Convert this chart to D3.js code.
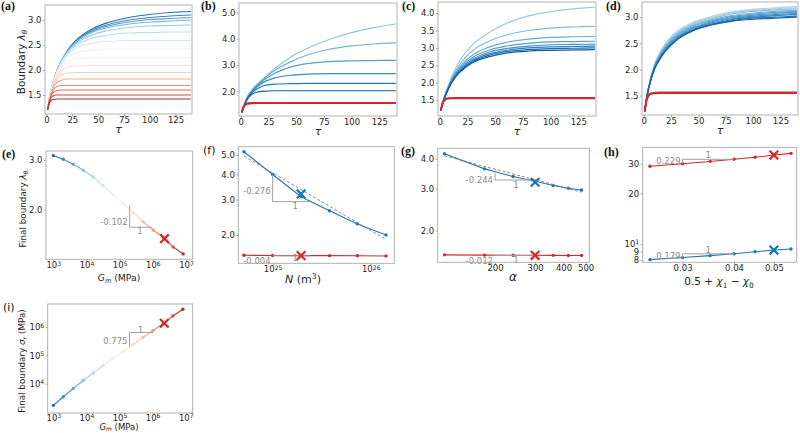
<!DOCTYPE html>
<html><head><meta charset="utf-8">
<script src="https://cdn.jsdelivr.net/npm/d3@7"></script>
<style>
body{margin:0;background:#fff;}
svg{display:block;}
text{font-family:"DejaVu Sans",sans-serif;}
</style></head><body>
<svg id="chart" width="800" height="433"></svg>
<script>
// ================= DATA =================
const tau = [1,3,6,10,15,20,30,45,60,80,100,120,140];
const tauTicks = [0,25,50,75,100,125];

// (a) boundary stretch vs tau, one curve per G_m (blue = soft ... red = stiff)
const curvesA = [
 [1.2,1.45,1.72,1.98,2.20,2.38,2.62,2.83,2.95,3.05,3.11,3.15,3.17],
 [1.2,1.45,1.72,1.98,2.20,2.37,2.60,2.80,2.91,3.00,3.05,3.08,3.10],
 [1.2,1.45,1.72,1.98,2.20,2.37,2.59,2.78,2.88,2.96,3.01,3.03,3.05],
 [1.2,1.45,1.72,1.98,2.19,2.36,2.58,2.76,2.85,2.92,2.96,2.98,3.00],
 [1.2,1.45,1.72,1.97,2.19,2.35,2.55,2.71,2.79,2.85,2.88,2.89,2.90],
 [1.2,1.45,1.72,1.97,2.18,2.33,2.51,2.64,2.70,2.74,2.75,2.76,2.76],
 [1.2,1.45,1.71,1.96,2.16,2.30,2.45,2.54,2.57,2.59,2.59,2.59,2.59],
 [1.2,1.45,1.70,1.94,2.12,2.24,2.35,2.40,2.42,2.42,2.42,2.42,2.42],
 [1.2,1.44,1.69,1.91,2.07,2.16,2.23,2.25,2.25,2.25,2.25,2.25,2.25],
 [1.2,1.44,1.67,1.87,1.99,2.05,2.08,2.09,2.09,2.09,2.09,2.09,2.09],
 [1.2,1.43,1.65,1.82,1.91,1.94,1.95,1.95,1.95,1.95,1.95,1.95,1.95],
 [1.2,1.42,1.62,1.75,1.80,1.82,1.82,1.82,1.82,1.82,1.82,1.82,1.82],
 [1.2,1.41,1.58,1.67,1.69,1.69,1.69,1.69,1.69,1.69,1.69,1.69,1.69],
 [1.2,1.40,1.54,1.59,1.60,1.60,1.60,1.60,1.60,1.60,1.60,1.60,1.60],
 [1.2,1.38,1.48,1.50,1.50,1.50,1.50,1.50,1.50,1.50,1.50,1.50,1.50],
 [1.2,1.35,1.41,1.42,1.42,1.42,1.42,1.42,1.42,1.42,1.42,1.42,1.42]
];
// (b) varying N
const curvesB = [
 [1.2,1.45,1.78,2.05,2.27,2.47,2.84,3.30,3.63,3.97,4.23,4.42,4.56],
 [1.2,1.45,1.77,2.03,2.25,2.44,2.77,3.12,3.38,3.60,3.73,3.80,3.84],
 [1.2,1.45,1.76,2.00,2.22,2.40,2.67,2.92,3.05,3.13,3.16,3.17,3.18],
 [1.2,1.44,1.74,1.97,2.18,2.33,2.50,2.61,2.65,2.67,2.67,2.67,2.67],
 [1.2,1.44,1.72,1.93,2.10,2.20,2.27,2.29,2.30,2.30,2.30,2.30,2.30],
 [1.2,1.43,1.70,1.88,1.97,2.00,2.02,2.02,2.02,2.02,2.02,2.02,2.02]
];
// (c) varying alpha
const curvesC = [
 [1.2,1.45,1.75,2.10,2.45,2.72,3.10,3.45,3.70,3.92,4.04,4.12,4.17],
 [1.2,1.45,1.74,2.06,2.37,2.60,2.93,3.20,3.37,3.50,3.57,3.60,3.62],
 [1.2,1.45,1.73,2.03,2.32,2.52,2.80,3.03,3.16,3.25,3.30,3.32,3.33],
 [1.2,1.45,1.72,2.01,2.28,2.47,2.73,2.94,3.05,3.13,3.17,3.18,3.19],
 [1.2,1.44,1.71,1.99,2.25,2.43,2.68,2.88,2.98,3.05,3.09,3.10,3.11],
 [1.2,1.44,1.70,1.98,2.23,2.40,2.64,2.83,2.93,3.00,3.03,3.04,3.05],
 [1.2,1.44,1.69,1.96,2.21,2.37,2.61,2.79,2.89,2.95,2.98,2.99,3.00],
 [1.2,1.43,1.68,1.95,2.19,2.35,2.58,2.75,2.85,2.91,2.93,2.94,2.95]
];
// (d) varying 0.5 + chi1 - chi0
const curvesD = [
 [1.2,1.50,1.80,2.10,2.33,2.50,2.72,2.90,3.00,3.10,3.15,3.18,3.20],
 [1.2,1.50,1.79,2.09,2.32,2.48,2.70,2.88,2.98,3.08,3.13,3.16,3.18],
 [1.2,1.50,1.79,2.08,2.30,2.46,2.68,2.86,2.96,3.06,3.11,3.14,3.16],
 [1.2,1.49,1.78,2.07,2.28,2.44,2.66,2.84,2.94,3.03,3.08,3.11,3.13],
 [1.2,1.49,1.78,2.06,2.27,2.42,2.64,2.82,2.92,3.01,3.06,3.09,3.11],
 [1.2,1.49,1.77,2.05,2.25,2.41,2.62,2.80,2.90,2.99,3.04,3.07,3.09],
 [1.2,1.49,1.77,2.04,2.24,2.39,2.60,2.78,2.88,2.97,3.02,3.05,3.07],
 [1.2,1.48,1.76,2.03,2.22,2.37,2.58,2.76,2.86,2.95,3.00,3.03,3.05],
 [1.2,1.48,1.76,2.02,2.21,2.36,2.57,2.75,2.85,2.93,2.98,3.00,3.02],
 [1.2,1.48,1.75,2.01,2.20,2.35,2.56,2.74,2.84,2.92,2.96,2.98,3.00]
];
// red (stiff) curves in b, c, d
const curvesRed = [
 [1.2,1.43,1.53,1.545,1.55,1.55,1.55,1.55,1.55,1.55,1.55,1.55,1.55],
 [1.2,1.44,1.54,1.555,1.56,1.56,1.56,1.56,1.56,1.56,1.56,1.56,1.56]
];

// (e),(i) final boundary vs G_m
const gm = [1e3,2e3,4e3,8e3,1.6e4,3.2e4,6.4e4,1.28e5,2.56e5,5.12e5,1.024e6,2.048e6,4.096e6,8.192e6];
const lamFinal = [3.11,3.02,2.90,2.76,2.61,2.43,2.26,2.10,1.95,1.81,1.69,1.59,1.47,1.39];
const sigmaFinal = [1.7e3,3.45e3,6.7e3,1.3e4,2.4e4,4.4e4,7.8e4,1.36e5,2.44e5,4.3e5,7.65e5,1.3e6,2.47e6,4.3e6];
const refGm = 2.25e6, refLam = 1.575, refSigma = 1.38e6;

// (f) final boundary vs N
const nVol = [5.1e24,1.0e25,1.95e25,3.8e25,7.3e25,1.43e26];
const fBlue = [5.19,4.0,3.1,2.64,2.27,2.0];
const fRed = [1.585,1.58,1.578,1.577,1.575,1.57];
const refN = 1.95e25, refFBlue = 3.2, refFRed = 1.578;
const fitFBlue = [[5.1e24,4.94],[1.43e26,1.9]];

// (g) final boundary vs alpha
const alphaVals = [120,180,240,300,360,420,480];
const gBlue = [4.2,3.63,3.37,3.22,3.09,3.01,2.96];
const gRed = [1.58,1.576,1.573,1.573,1.572,1.570,1.569];
const refAlpha = 300, refGBlue = 3.19, refGRed = 1.573;
const fitGBlue = [[120,4.12],[480,2.9]];

// (h) final boundary vs 0.5 + chi1 - chi0
const chiVals = [0.025,0.03,0.035,0.04,0.045,0.05,0.055];
const hRed = [29.0,30.0,30.98,31.9,32.8,33.8,34.6];
const hBlue = [8.06,8.29,8.52,8.73,8.98,9.19,9.32];
const refChi = 0.05, refHRed = 33.8, refHBlue = 9.19;

// slope triangles: corner points, slope text, text anchors (data coords)
const triE = {pts:[[2e5,2.07],[2e5,1.73],[9.5e5,1.73]], s:"-0.102", sAt:[2e5,1.81], one:"1", oAt:[4.1e5,1.68]};
const triFB = {pts:[[1e25,4.0],[1e25,2.93],[2.4e25,2.93]], s:"-0.276", sAt:[1e25,3.32], one:"1", oAt:[1.7e25,2.80]};
const triFR = {pts:[[1e25,1.58],[1e25,1.574],[2.4e25,1.574]], s:"-0.004", sAt:[1e25,1.49], one:"1", oAt:[1.7e25,1.53]};
const triGB = {pts:[[200,3.48],[200,3.26],[300,3.26]], s:"-0.244", sAt:[200,3.265], one:"1", oAt:[247,3.11]};
const triGR = {pts:[[200,1.575],[200,1.571],[300,1.571]], s:"-0.012", sAt:[200,1.495], one:"1", oAt:[247,1.51]};
const triHR = {pts:[[0.03,30.0],[0.03,31.9],[0.04,31.9]], s:"0.229", sAt:[0.03,30.98], one:"1", oAt:[0.0346,33.7]};
const triHB = {pts:[[0.03,8.29],[0.03,8.73],[0.04,8.73]], s:"0.179", sAt:[0.03,8.49], one:"1", oAt:[0.0346,9.24]};
const triI = {pts:[[2e5,2.05e5],[2e5,6.5e5],[1.05e6,6.5e5]], s:"0.775", sAt:[2e5,3.18e5], one:"1", oAt:[4.36e5,8.1e5]};

// tick values
const yTicksA = [1.5,2.0,2.5,3.0];
const yTicksB = [2,3,4,5];
const yTicksC = [1.5,2.0,2.5,3.0,3.5,4.0];
const yTicksD = [1.5,2.0,2.5,3.0];
const gmTicks = [1e3,1e4,1e5,1e6,1e7];
const yTicksE = [2,3];
const nTicks = [1e25,1e26];
const yTicksF = [2,3,4,5];
const alphaTicks = [200,300,400,500];
const yTicksG = [2,3,4];
const chiTicks = [0.03,0.04,0.05];
const yTicksH = [8,9,10,20,30];
const yTicksI = [1e4,1e5,1e6];

// ================= LAYOUT =================
const L = {
 a:{x0:45,x1:192,y0:5,y1:114},
 b:{x0:239,x1:397,y0:3,y1:116},
 c:{x0:438,x1:596,y0:2,y1:116},
 d:{x0:642,x1:798,y0:2,y1:115},
 e:{x0:46,x1:192.7,y0:151,y1:259.3},
 f:{x0:238.3,x1:394.3,y0:146.7,y1:263.3},
 g:{x0:437.7,x1:589.3,y0:148.3,y1:262.3},
 h:{x0:642.7,x1:796.7,y0:147.3,y1:262.3},
 i:{x0:47.7,x1:192.7,y0:304,y1:413}
};
const C0 = "#1f77b4", C3 = "#d62728", GRAY = "#8c8c8c";
const svg = d3.select('#chart');
const fmt1 = d3.format('.1f');
const fmtPow = d => "10^" + Math.round(Math.log10(d));

function supers(a){
  a.selectAll('.tick text').each(function(){
    const t = d3.select(this); const s = t.text();
    if(s.includes('^')){
      const [b,e] = s.split('^'); t.text(null);
      t.append('tspan').text(b);
      t.append('tspan').attr('dy','-0.45em').style('font-size','0.72em').text(e);
    }
  });
}
function panel(key, xs, ys, xt, yt, xf, yf, xTick){
  const b = L[key];
  const g = svg.append('g');
  const x = xs.range([b.x0,b.x1]);
  const y = ys.range([b.y1,b.y0]);
  const xtSize = xTick ? xTick[0] : 2, xtPad = xTick ? xTick[1] : 1;
  const ax = g.append('g').attr('transform',`translate(0,${b.y1})`)
    .call(d3.axisBottom(x).tickValues(xt).tickFormat(xf).tickSize(xtSize).tickPadding(xtPad));
  const ay = g.append('g').attr('transform',`translate(${b.x0},0)`)
    .call(d3.axisLeft(y).tickValues(yt).tickFormat(yf).tickSize(2).tickPadding(1.5));
  [ax,ay].forEach(a=>{
    a.select('.domain').remove();
    a.selectAll('.tick line').attr('stroke','#8a8a8a').attr('stroke-width',0.8);
    a.selectAll('.tick text').attr('fill','#262626').style('font-size','8.5px').style('font-family','DejaVu Sans');
    supers(a);
  });
  const plot = g.append('g');
  g.append('rect').attr('x',b.x0).attr('y',b.y0).attr('width',b.x1-b.x0).attr('height',b.y1-b.y0)
    .attr('fill','none').attr('stroke','#a8a8a8').attr('stroke-width',0.9);
  return {g:plot, root:g, x, y, b};
}
function panelLabel(txt, x, y, bold){
  svg.append('text').attr('x',x).attr('y',y).text(txt)
    .style('font-family', bold ? '"Liberation Serif",serif' : '"DejaVu Sans",sans-serif')
    .style('font-weight', bold ? 'bold' : 'normal')
    .style('font-size', bold ? '12px' : '11px').attr('fill','#111');
}
// text with parts: [str, style] style: 'i' italic, 'sub', 'sup'
function richText(x, y, parts, size, rotate, subShift){
  const t = svg.append('text').attr('text-anchor','middle').style('font-size',size+'px').attr('fill','#222');
  if(rotate) t.attr('transform',`translate(${x},${y}) rotate(-90)`); else t.attr('x',x).attr('y',y);
  let shift = 0;
  const sub = subShift || 2.4;
  parts.forEach(([s,st])=>{
    const sp = t.append('tspan').text(s);
    let target = 0;
    if(st && st.includes('sub')) target = sub/10*size;
    if(st && st.includes('sup')) target = -0.4*size;
    sp.attr('dy', (target-shift)+'px');
    if(st && (st.includes('sub')||st.includes('sup'))) sp.style('font-size', (size*0.7)+'px');
    if(st && st.includes('i')) sp.style('font-style','italic');
    shift = target;
  });
  return t;
}
function drawX(g, cx, cy, color){
  const r = 4.3;
  g.append('path').attr('d',`M${cx-r},${cy-r}L${cx+r},${cy+r}M${cx-r},${cy+r}L${cx+r},${cy-r}`)
    .attr('stroke',color).attr('stroke-width',2.2).attr('fill','none');
}
function triangle(P, T){
  const ln = d3.line().x(d=>P.x(d[0])).y(d=>P.y(d[1]));
  P.g.append('path').attr('d', ln(T.pts)).attr('fill','none').attr('stroke','#a0a0a0').attr('stroke-width',1);
  P.g.append('text').attr('x',P.x(T.sAt[0])-2).attr('y',P.y(T.sAt[1])).attr('dy','0.35em')
    .attr('text-anchor','end').style('font-size','8.5px').attr('fill',GRAY).text(T.s);
  P.g.append('text').attr('x',P.x(T.oAt[0])).attr('y',P.y(T.oAt[1])).attr('dy','0.35em')
    .attr('text-anchor','middle').style('font-size','8.5px').attr('fill',GRAY).text(T.one);
}
function series(P, xs, ys, color, w){
  const ln = d3.line().x((d,i)=>P.x(xs[i])).y(d=>P.y(d));
  P.g.append('path').attr('d', ln(ys)).attr('fill','none').attr('stroke',color).attr('stroke-width',w||1.1);
  P.g.selectAll(null).data(ys).enter().append('circle')
    .attr('cx',(d,i)=>P.x(xs[i])).attr('cy',d=>P.y(d)).attr('r',1.7).attr('fill',color);
}
function dashed(P, pts){
  const ln = d3.line().x(d=>P.x(d[0])).y(d=>P.y(d[1]));
  P.g.append('path').attr('d', ln(pts)).attr('fill','none').attr('stroke','#7a7a7a')
    .attr('stroke-width',0.9).attr('stroke-dasharray','3,2');
}

// ================= TOP ROW =================
function topRow(key, curves, colorOf, ydom, yt, withRed){
  const P = panel(key, d3.scaleLinear().domain([-1.5,141]), d3.scaleLinear().domain(ydom),
                  tauTicks, yt, d3.format('d'), fmt1);
  const line = d3.line().x((d,i)=>P.x(tau[i])).y(d=>P.y(d)).curve(d3.curveMonotoneX);
  curves.forEach((c,i)=> P.g.append('path').attr('d',line(c)).attr('fill','none')
      .attr('stroke',colorOf(i)).attr('stroke-width',1.2));
  if(withRed) curvesRed.forEach(c=> P.g.append('path').attr('d',line(c)).attr('fill','none')
      .attr('stroke',C3).attr('stroke-width',1.8));
  richText((P.b.x0+P.b.x1)/2, P.b.y1+19, [['τ','i']], 11);
  return P;
}
const rdbuA = i => d3.interpolateRdBu(0.88 - 0.76*i/(curvesA.length-1));
topRow('a', curvesA, rdbuA, [1.12,3.3], yTicksA, false);
topRow('b', curvesB, i => d3.interpolateBlues(0.4 + 0.42*i/(curvesB.length-1)), [1.06,5.36], yTicksB, true);
topRow('c', curvesC, i => d3.interpolateBlues(0.38 + 0.45*i/(curvesC.length-1)), [1.04,4.32], yTicksC, true);
topRow('d', curvesD, i => d3.interpolateBlues(0.3 + 0.5*i/(curvesD.length-1)), [1.13,3.29], yTicksD, true);
richText(24.5, 62, [['Boundary ',''],['λ','i'],['θ','i sub']], 10.5, true);

// ================= (e) =================
const rdbuG = i => d3.interpolateRdBu(0.88 - 0.76*i/(gm.length-1));
function gradientSeries(P, xs, ys){
  for(let i=0;i<xs.length-1;i++){
    P.g.append('line').attr('x1',P.x(xs[i])).attr('y1',P.y(ys[i])).attr('x2',P.x(xs[i+1])).attr('y2',P.y(ys[i+1]))
      .attr('stroke', d3.interpolateRdBu(0.88 - 0.76*(i+0.5)/(xs.length-1))).attr('stroke-width',1.2);
  }
  P.g.selectAll(null).data(ys).enter().append('circle')
    .attr('cx',(d,i)=>P.x(xs[i])).attr('cy',d=>P.y(d)).attr('r',1.7).attr('fill',(d,i)=>rdbuG(i));
}
const E = panel('e', d3.scaleLog().domain([10**2.78,10**7.2]), d3.scaleLog().domain([1.33,3.23]), gmTicks, yTicksE, fmtPow, fmt1);
gradientSeries(E, gm, lamFinal);
triangle(E, triE);
drawX(E.g, E.x(refGm), E.y(refLam), C3);
richText(119, 281, [['G','i'],['m','i sub'],[' (MPa)','']], 9.3);
richText(26, 209, [['Final boundary ',''],['λ','i'],['θ','i sub']], 8.8, true);

// ================= (f) =================
const F = panel('f', d3.scaleLog().domain([10**24.65,10**26.24]), d3.scaleLog().domain([1.445,5.5]), nTicks, yTicksF, fmtPow, fmt1);
series(F, nVol, fBlue, C0);
dashed(F, fitFBlue);
series(F, nVol, fRed, C3);
triangle(F, triFB); triangle(F, triFR);
drawX(F.g, F.x(refN), F.y(refFBlue), C0);
drawX(F.g, F.x(refN), F.y(refFRed), C3);
richText(303, 283, [['N','i'],[' (m',''],['3','sup'],[')','']], 11);

// ================= (g) =================
const G = panel('g', d3.scaleLog().domain([112,519]), d3.scaleLog().domain([1.47,4.43]), alphaTicks, yTicksG, d3.format('d'), fmt1);
series(G, alphaVals, gBlue, C0);
dashed(G, fitGBlue);
series(G, alphaVals, gRed, C3);
triangle(G, triGB); triangle(G, triGR);
drawX(G.g, G.x(refAlpha), G.y(refGBlue), C0);
drawX(G.g, G.x(refAlpha), G.y(refGRed), C3);
richText(513, 281, [['α','i']], 12);

// ================= (h) =================
const hFmt = d => d===10 ? "10^1" : String(d);
const H = panel('h', d3.scaleLog().domain([0.024,0.0568]), d3.scaleLog().domain([7.77,37.6]), chiTicks, yTicksH, d=>String(d), hFmt);
series(H, chiVals, hRed, C3);
series(H, chiVals, hBlue, C0);
triangle(H, triHR); triangle(H, triHB);
drawX(H.g, H.x(refChi), H.y(refHRed), C3);
drawX(H.g, H.x(refChi), H.y(refHBlue), C0);
richText(719, 285, [['0.5 + ',''],['χ','i'],['1','sub'],[' − ',''],['χ','i'],['0','sub']], 10.5);

// ================= (i) =================
const I = panel('i', d3.scaleLog().domain([10**2.83,10**7.21]), d3.scaleLog().domain([10**2.96,10**6.82]), gmTicks, yTicksI, fmtPow, fmtPow, [1.5,0.5]);
gradientSeries(I, gm, sigmaFinal);
triangle(I, triI);
drawX(I.g, I.x(refGm), I.y(refSigma), C3);
richText(119, 429.5, [['G','i'],['m','i sub'],[' (MPa)','']], 8.5, false, 1.5);
richText(25, 361, [['Final boundary ',''],['σ','i'],['r','i sub'],[' (MPa)','']], 8.8, true);

// ================= panel letters =================
panelLabel('(a)', 1, 10, true);
panelLabel('(b)', 201, 10, true);
panelLabel('(c)', 402, 10, true);
panelLabel('(d)', 606, 10, true);
panelLabel('(e)', 2, 158, true);
panelLabel('(f)', 203, 154, false);
panelLabel('(g)', 401, 155, true);
panelLabel('(h)', 604, 156, true);
panelLabel('(i)', 3, 311, false);
</script>
</body></html>
